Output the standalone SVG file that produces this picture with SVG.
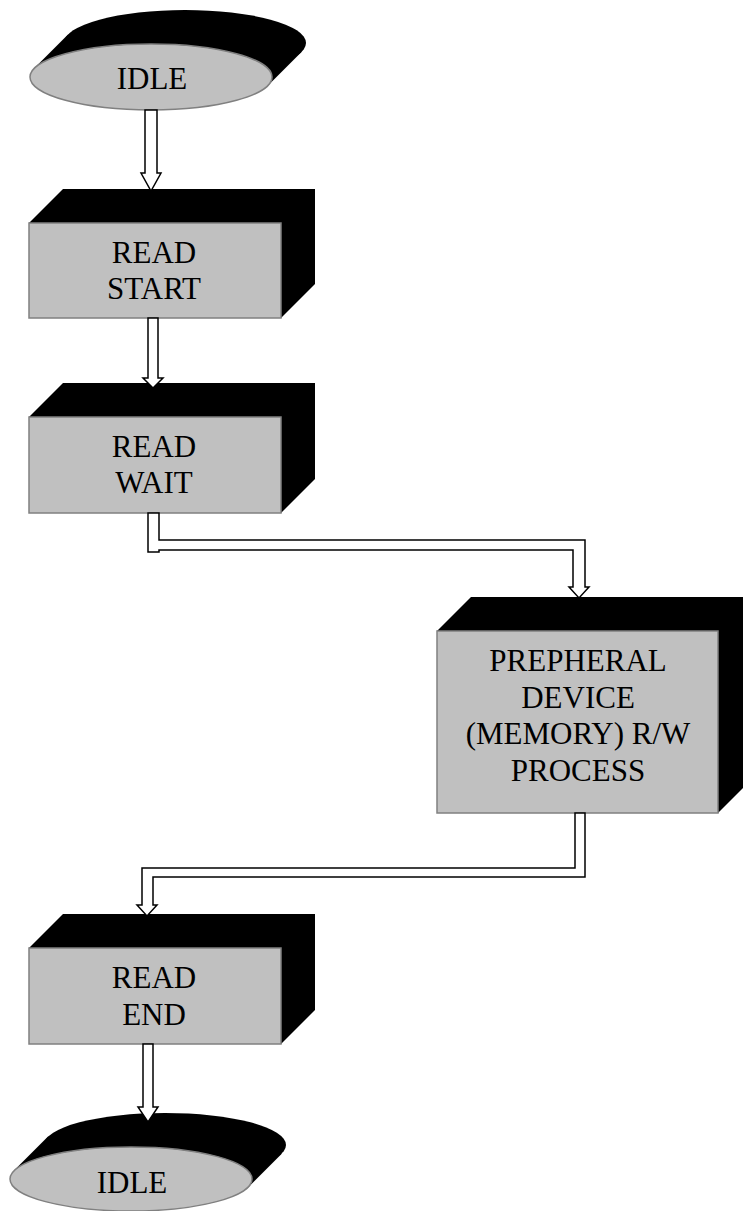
<svg xmlns="http://www.w3.org/2000/svg" width="743" height="1211" viewBox="0 0 743 1211">
  <style>
    .face { fill: #c0c0c0; stroke: #808080; stroke-width: 1.5; }
    .depth { fill: #000000; stroke: none; }
    .label { font-family: "Liberation Serif", "Times New Roman", serif; font-size: 31px; fill: #000000; text-anchor: middle; }
    .pipe { fill: #ffffff; stroke: #000000; stroke-width: 1.5; stroke-linejoin: miter; }
  </style>
  <rect width="743" height="1211" fill="#ffffff"/>

  <!-- start state -->
  <g id="idle-top">
    <ellipse class="depth" cx="185" cy="43" rx="121" ry="33"/>
    <polygon class="depth" points="268,85.5 302,51.5 68,34.5 34,68.5"/>
    <ellipse class="face" cx="151" cy="77" rx="121" ry="33"/>
    <text class="label" x="152" y="89">IDLE</text>
  </g>

  <g id="read-start">
    <polygon class="depth" points="29,223 63,189 315,189 315,284 281,318"/>
    <rect class="face" x="29" y="223" width="252" height="95"/>
    <text class="label" x="154" y="263">READ</text>
    <text class="label" x="154" y="299">START</text>
  </g>

  <g id="read-wait">
    <polygon class="depth" points="29,417 63,383 315,383 315,479 281,513"/>
    <rect class="face" x="29" y="417" width="252" height="96"/>
    <text class="label" x="154" y="457">READ</text>
    <text class="label" x="154" y="493">WAIT</text>
  </g>

  <g id="peripheral-rw">
    <polygon class="depth" points="437,631 471,597 752,597 752,779 718,813"/>
    <rect class="face" x="437" y="631" width="281" height="182"/>
    <text class="label" x="578" y="671">PREPHERAL</text>
    <text class="label" x="578" y="708">DEVICE</text>
    <text class="label" x="578" y="744">(MEMORY) R/W</text>
    <text class="label" x="578" y="781">PROCESS</text>
  </g>

  <g id="read-end">
    <polygon class="depth" points="29,948 63,914 315,914 315,1010 281,1044"/>
    <rect class="face" x="29" y="948" width="252" height="96"/>
    <text class="label" x="154" y="988">READ</text>
    <text class="label" x="154" y="1025">END</text>
  </g>

  <!-- end state -->
  <g id="idle-bottom">
    <ellipse class="depth" cx="165" cy="1145" rx="121" ry="32"/>
    <polygon class="depth" points="248,1187.5 282,1153.5 48,1136.5 14,1170.5"/>
    <ellipse class="face" cx="131" cy="1179" rx="121" ry="32"/>
    <text class="label" x="132" y="1193">IDLE</text>
  </g>

  <!-- hollow block arrows between states -->
  <g id="connectors">
    <polygon class="pipe" points="145,110 157,110 157,173 161,173 151,191 141,173 145,173"/>
    <polygon class="pipe" points="148,318 158,318 158,378 163,378 153,388 143,378 148,378"/>
    <polygon class="pipe" points="148,513 159,513 159,540 585,540 585,587 589,587 579,598 569,587 573,587 573,550 159,550 159,552 148,552"/>
    <polygon class="pipe" points="575,813 585,813 585,877 153,877 153,905 157,905 147,916 137,905 142,905 142,868 575,868"/>
    <polygon class="pipe" points="143,1044 153,1044 153,1107 158,1107 148,1122 138,1107 143,1107"/>
  </g>
</svg>
